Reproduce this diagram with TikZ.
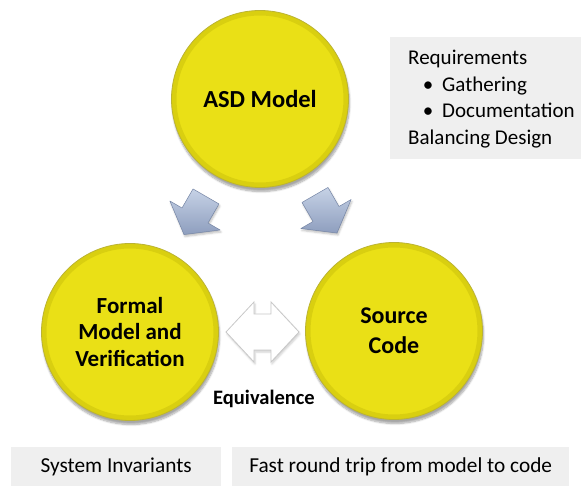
\documentclass[tikz,border=0pt]{standalone}
\usepackage{fontspec}
\setmainfont{Carlito}
\usetikzlibrary{shadows.blur}

\definecolor{panelgray}{RGB}{239,239,239}
\definecolor{ycore}{RGB}{234,224,22}
\definecolor{yedge}{RGB}{170,160,0}
\definecolor{bluelite}{RGB}{198,210,230}
\definecolor{bluedark}{RGB}{142,158,190}
\definecolor{blueline}{RGB}{118,134,166}
\definecolor{eqline}{RGB}{200,200,200}

\begin{document}
\begin{tikzpicture}[x=1pt,y=-1pt,
  stage/.style={circle, minimum size=177pt, inner sep=0pt, fill=ycore,
    draw=yedge!80, line width=0.8pt,
    path picture={\draw[yedge, opacity=0.25, line width=5pt]
      (path picture bounding box.center) circle (86pt);},
    blur shadow={shadow xshift=1pt, shadow yshift=-4pt, shadow opacity=35,
      shadow blur steps=8},
    align=center, text=black},
  panel/.style={fill=panelgray, draw=none, inner sep=0pt},
  plain/.style={inner sep=0pt, font=\fontsize{21}{24}\selectfont},
  flowarrow/.style={top color=bluelite, bottom color=bluedark, draw=blueline,
    line width=0.5pt, line join=round,
    blur shadow={shadow xshift=1pt, shadow yshift=-2pt, shadow opacity=25}},
  eqarrow/.style={fill=white, draw=eqline, line width=0.8pt, line join=miter,
    blur shadow={shadow xshift=1pt, shadow yshift=-2pt, shadow opacity=20}}
]
\useasboundingbox (0,0) rectangle (581,486);

% three stages
\node[stage, font=\fontsize{24.5}{26}\selectfont\bfseries] (asd) at (260,99) {ASD Model};
\node[stage, font=\fontsize{23}{26.5}\selectfont\bfseries] (formal) at (130,332)
  {Formal\\Model and\\Verification};
\node[stage, font=\fontsize{24}{30}\selectfont\bfseries] (source) at (394,331)
  {Source\\Code};

% block arrows from the model down to both results
\begin{scope}[shift={(195,215.5)}, rotate=-30]
  \draw[flowarrow] (-15,-22) -- (15,-22) -- (15,0) -- (29,0) -- (0,22)
    -- (-29,0) -- (-15,0) -- cycle;
\end{scope}
\begin{scope}[shift={(326,214)}, rotate=30]
  \draw[flowarrow] (-15,-22) -- (15,-22) -- (15,0) -- (29,0) -- (0,22)
    -- (-29,0) -- (-15,0) -- cycle;
\end{scope}

% two-headed equivalence arrow
\draw[eqarrow] (226,332) -- (254,302) -- (254,314) -- (271,314) -- (271,302)
  -- (299,332) -- (271,362) -- (271,350) -- (254,350) -- (254,362) -- cycle;
\node[inner sep=0pt, font=\fontsize{20.5}{22}\selectfont\bfseries] (equiv)
  at (264,399) {Equivalence};

% requirements panel
\node[panel, minimum width=191pt, minimum height=122pt, anchor=north west]
  (reqpanel) at (390,37) {};
\node[plain, anchor=base west] (req) at (408,65) {Requirements};
\node[plain, anchor=base west] (gath) at (442,91.5) {Gathering};
\node[plain, anchor=base west] (doc) at (442,118) {Documentation};
\node[plain, anchor=base west] (bal) at (408,144.5) {Balancing Design};
\node[plain, anchor=base] (bulA) at (428,91.5) {•};
\node[plain, anchor=base] (bulB) at (428,118) {•};

% bottom panels
\node[panel, minimum width=210pt, minimum height=40pt, anchor=north west]
  (invpanel) at (11,447) {};
\node[plain, font=\fontsize{21.3}{24}\selectfont] (inv) at (invpanel.center)
  {System Invariants};
\node[panel, minimum width=337pt, minimum height=40pt, anchor=north west]
  (trippanel) at (232,447) {};
\node[plain, font=\fontsize{21.3}{24}\selectfont] (trip) at (trippanel.center)
  {Fast round trip from model to code};
\end{tikzpicture}
\end{document}
